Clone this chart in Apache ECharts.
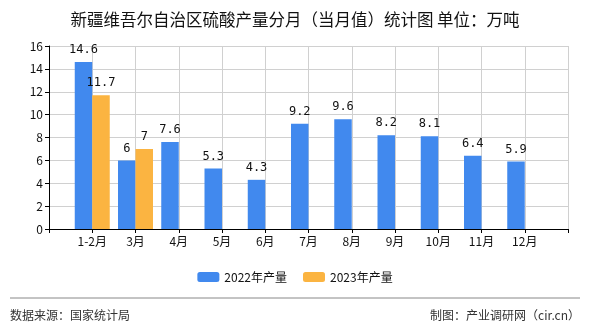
<!DOCTYPE html>
<html>
<head>
<meta charset="utf-8">
<script src="https://cdn.jsdelivr.net/npm/echarts@6/dist/echarts.min.js"></script>
<style>
html,body{margin:0;padding:0;background:#fff;}
#chart{width:590px;height:330px;}
</style>
</head>
<body>
<div id="chart"></div>
<script>
// Monthly sulfuric acid output (10k tonnes)
var months = ['1-2月','3月','4月','5月','6月','7月','8月','9月','10月','11月','12月'];
var output2022 = [14.6, 6, 7.6, 5.3, 4.3, 9.2, 9.6, 8.2, 8.1, 6.4, 5.9];
var output2023 = [11.7, 7];
var yTicks = [0, 2, 4, 6, 8, 10, 12, 14, 16];

// Pad with an empty slot at each end so labels sit on tick lines
var cats = [''].concat(months, ['']);
function pad(arr) {
  var out = [null];
  for (var i = 0; i < months.length; i++) out.push(i < arr.length ? arr[i] : null);
  out.push(null);
  return out;
}

var labelFont = 'SimSun, "DejaVu Sans Mono", monospace';
var cjk = '"Noto Sans CJK SC", sans-serif';

var chart = echarts.init(document.getElementById('chart'));
chart.setOption({
  animation: false,
  backgroundColor: '#fff',
  title: {
    text: '新疆维吾尔自治区硫酸产量分月（当月值）统计图 单位：万吨',
    left: 'center', top: 6,
    textStyle: { fontFamily: cjk, fontSize: 16.5, fontWeight: 'normal', color: '#111' }
  },
  legend: {
    top: 266, left: 'center', itemWidth: 22, itemHeight: 10, itemGap: 16,
    textStyle: { fontFamily: cjk, fontSize: 12, color: '#111' },
    data: ['2022年产量', '2023年产量']
  },
  grid: { left: 49, right: 22, top: 46, bottom: 101 },
  xAxis: {
    type: 'category', data: cats, boundaryGap: false,
    axisLine: { lineStyle: { color: '#000' } },
    axisTick: { lineStyle: { color: '#000' }, length: 4 },
    axisLabel: { fontFamily: cjk, fontSize: 12, color: '#111', interval: 0, margin: 6 },
    splitLine: { show: true, lineStyle: { color: '#d0d0d0' } }
  },
  yAxis: {
    type: 'value', min: yTicks[0], max: yTicks[yTicks.length - 1], interval: 2,
    axisLine: { show: true, lineStyle: { color: '#000' } },
    axisTick: { show: true, lineStyle: { color: '#000' }, length: 4 },
    axisLabel: { fontFamily: cjk, fontSize: 12, color: '#111', margin: 6 },
    splitLine: { lineStyle: { color: '#d0d0d0' } }
  },
  series: [
    {
      name: '2022年产量', type: 'bar', data: pad(output2022),
      barWidth: 17.5, barGap: '0%',
      itemStyle: { color: '#4189ee' },
      label: { show: true, position: 'top', distance: 6, fontFamily: labelFont, fontSize: 12, color: '#111' }
    },
    {
      name: '2023年产量', type: 'bar', data: pad(output2023),
      barWidth: 17.5, barGap: '0%',
      itemStyle: { color: '#fbb441' },
      label: { show: true, position: 'top', distance: 6, fontFamily: labelFont, fontSize: 12, color: '#111' }
    }
  ],
  graphic: [
    { type: 'line', shape: { x1: 10, y1: 298, x2: 580, y2: 298 }, style: { stroke: '#888', lineWidth: 1 } },
    { type: 'text', left: 10, top: 309, style: { text: '数据来源：国家统计局', font: '12px "Noto Sans CJK SC", sans-serif', fill: '#333' } },
    { type: 'text', right: 10, top: 309, style: { text: '制图：产业调研网（cir.cn）', font: '12px "Noto Sans CJK SC", sans-serif', fill: '#333' } }
  ]
});
</script>
</body>
</html>
